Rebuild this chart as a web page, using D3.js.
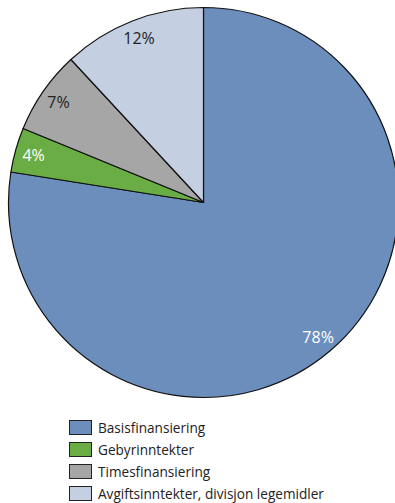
<!DOCTYPE html>
<html>
<head>
<meta charset="utf-8">
<script src="https://cdn.jsdelivr.net/npm/d3@7"></script>
<style>
  html, body { margin: 0; padding: 0; background: #fff; overflow: hidden; }
  svg { display: block; }
</style>
</head>
<body>
<svg id="chart" width="395" height="503"></svg>
<script>
// Income sources (share of total, percent)
const categories = ["Basisfinansiering", "Gebyrinntekter", "Timesfinansiering", "Avgiftsinntekter, divisjon legemidler"];
const values = [77.5, 3.7, 6.9, 11.9];
const colors = ["#6C8EBC", "#6AAD45", "#A6A6A6", "#C4CFE2"];
const labelColors = ["#ffffff", "#ffffff", "#222222", "#222222"];

const svg = d3.select("#chart");
const cx = 203.5, cy = 202.5, radius = 195;

const data = categories.map((c, i) => ({ name: c, value: values[i], color: colors[i], labelColor: labelColors[i] }));

const pie = d3.pie().value(d => d.value).sort(null);
const arcs = pie(data);
const arc = d3.arc().innerRadius(0).outerRadius(radius);
const labelArc = d3.arc().innerRadius(radius * 0.905).outerRadius(radius * 0.905);

const g = svg.append("g").attr("transform", `translate(${cx},${cy})`);

g.selectAll("path")
  .data(arcs)
  .join("path")
  .attr("d", arc)
  .attr("fill", d => d.data.color)
  .attr("stroke", "#111")
  .attr("stroke-width", 1.2)
  .attr("stroke-linejoin", "round");

g.selectAll("text")
  .data(arcs)
  .join("text")
  .attr("transform", d => `translate(${labelArc.centroid(d)})`)
  .attr("text-anchor", "middle")
  .attr("dominant-baseline", "central")
  .attr("font-family", "'Open Sans', 'Noto Sans', sans-serif")
  .attr("font-size", 16)
  .attr("fill", d => d.data.labelColor)
  .text(d => Math.round(d.data.value) + "%");

// Legend
const legend = svg.append("g").attr("transform", "translate(69.5,420.5)");
const rowH = 22;
const items = legend.selectAll("g")
  .data(data)
  .join("g")
  .attr("transform", (d, i) => `translate(0,${i * rowH})`);

items.append("rect")
  .attr("width", 22)
  .attr("height", 14)
  .attr("fill", d => d.color)
  .attr("stroke", "#222")
  .attr("stroke-width", 1);

items.append("text")
  .attr("x", 28.5)
  .attr("y", 7)
  .attr("dominant-baseline", "central")
  .attr("font-family", "'Open Sans', 'Noto Sans', sans-serif")
  .attr("font-size", 13.6)
  .attr("fill", "#222")
  .text(d => d.name);
</script>
</body>
</html>
